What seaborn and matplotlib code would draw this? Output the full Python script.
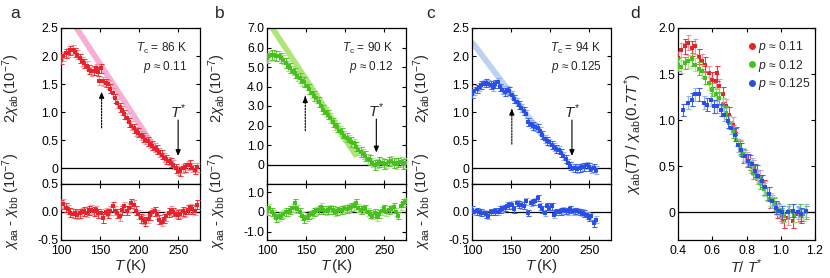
import numpy as np
import pandas as pd
import matplotlib
matplotlib.use("Agg")
import matplotlib.pyplot as plt
import seaborn as sns
from matplotlib.lines import Line2D

# ---------------- data ----------------
a_T = [100,103,106,109,112,115,118,121,124,127,130,133,136,139,142,145,148,149,151,154,157,160,163,166,169,172,175,178,181,184,187,190,193,196,199,202,205,208,211,214,217,220,223,226,229,232,235,238,241,244,247,250,253,256,259,262,265,268,271,274]
a_chi = [1.93,2.00,2.05,2.06,2.10,2.11,2.07,2.02,1.96,1.91,1.87,1.83,1.76,1.73,1.74,1.78,1.72,1.56,1.78,1.55,1.52,1.50,1.42,1.35,1.25,1.16,1.09,1.03,0.96,0.90,0.82,0.76,0.71,0.66,0.63,0.59,0.55,0.51,0.48,0.44,0.40,0.37,0.33,0.29,0.24,0.19,0.16,0.13,0.10,0.06,0.00,-0.04,-0.05,0.00,0.02,0.05,0.06,0.01,-0.03,0.02]
a_Tlow = [100,103,106,109,112,115,118,121,124,127,130,133,136,139,142,145,148,151,154,157,160,163,166,169,172,175,178,181,184,187,190,193,196,199,202,205,208,211,214,217,220,223,226,229,232,235,238,241,244,247,250,253,256,259,262,265,268,271,274]
a_diff = [0.14,0.15,0.08,0.05,-0.01,-0.03,-0.02,-0.05,-0.02,0.00,0.01,-0.01,0.03,0.04,0.01,0.03,-0.02,-0.02,-0.11,0.00,-0.03,0.02,0.10,0.02,-0.02,-0.08,0.03,0.10,0.02,0.08,0.16,0.13,0.02,-0.04,-0.11,-0.14,-0.17,-0.12,-0.06,0.00,0.01,-0.04,-0.14,-0.17,-0.12,-0.08,-0.01,0.02,0.00,-0.03,-0.05,-0.03,0.01,-0.01,0.04,0.07,0.05,0.02,0.13]

b_T = [100,103,106,109,112,115,118,121,124,127,130,133,136,139,142,145,148,151,154,157,160,163,166,169,172,175,178,181,184,187,190,193,196,199,202,205,208,211,214,217,220,223,226,229,232,235,238,241,244,247,250,253,256,259,262,265,268,271,274,277]
b_chi = [5.48,5.55,5.60,5.63,5.58,5.55,5.45,5.38,5.22,5.06,4.95,4.82,4.70,4.52,4.42,4.30,4.22,4.05,3.86,3.65,3.50,3.40,3.22,2.98,2.82,2.68,2.56,2.40,2.16,2.04,1.90,1.72,1.62,1.46,1.38,1.24,1.15,1.08,0.92,0.75,0.65,0.52,0.42,0.30,0.24,0.10,-0.03,0.05,0.12,0.10,0.02,0.05,0.15,0.20,0.08,0.03,0.10,0.14,0.02,0.06]
b_diff = [0.05,0.22,0.02,-0.10,-0.30,-0.25,-0.18,-0.10,0.00,0.02,0.09,0.20,0.48,0.15,0.00,-0.20,-0.35,-0.28,-0.15,-0.09,0.00,0.05,0.12,0.26,0.10,0.05,0.12,0.18,0.10,0.00,0.05,0.09,0.12,0.18,0.15,0.22,0.26,0.30,0.44,0.20,0.09,0.15,0.18,0.00,-0.09,-0.18,-0.05,-0.26,-0.10,0.05,0.18,0.02,0.09,0.15,0.26,0.00,-0.18,0.30,0.44,0.53]

c_T = [100,103,106,109,112,115,118,121,124,127,130,133,136,139,142,145,148,151,154,157,160,163,166,169,172,175,178,181,184,187,190,193,196,199,202,205,208,211,214,217,220,223,226,229,232,235,238,241,244,247,250,253,256,259]
c_chi = [1.33,1.38,1.42,1.45,1.48,1.51,1.52,1.51,1.48,1.45,1.50,1.54,1.44,1.39,1.36,1.40,1.38,1.30,1.23,1.18,1.13,1.08,1.02,0.96,0.83,0.79,0.76,0.74,0.72,0.66,0.59,0.52,0.48,0.46,0.42,0.38,0.35,0.33,0.28,0.22,0.16,0.09,0.04,0.01,0.00,-0.01,0.01,0.02,0.03,0.05,0.02,-0.01,0.01,-0.03]
c_diff = [0.04,0.00,0.01,0.00,-0.01,-0.02,-0.04,-0.07,0.00,0.00,0.01,0.00,0.04,0.06,0.07,0.11,0.12,0.13,0.05,0.16,0.13,0.12,0.11,0.19,-0.02,0.16,0.18,0.19,0.25,0.10,0.05,-0.02,0.10,0.08,0.10,-0.05,0.00,0.00,0.01,0.03,0.02,0.01,0.05,0.01,0.02,0.01,0.00,-0.01,-0.03,-0.06,-0.10,-0.08,-0.20,-0.14]

# guide lines (endpoints)
a_line_T = [119, 223]
a_line_y = [2.52, 0.30]
b_line_T = [106, 215]
b_line_y = [7.05, 0.40]
c_line_T = [100, 195]
c_line_y = [2.25, 0.50]

# panel d: normalised susceptibility vs T/T*
d_x_011 = [0.40,0.42,0.44,0.46,0.48,0.50,0.52,0.54,0.56,0.58,0.60,0.62,0.63,0.64,0.66,0.68,0.70,0.72,0.74,0.76,0.78,0.80,0.82,0.84,0.86,0.88,0.90,0.92,0.94,0.96,0.98,1.00,1.02,1.04,1.07,1.10,1.12]
d_y_011 = [1.67,1.76,1.80,1.84,1.78,1.80,1.69,1.64,1.60,1.51,1.44,1.42,1.51,1.37,1.28,1.15,1.06,0.95,0.85,0.70,0.61,0.58,0.54,0.49,0.43,0.38,0.27,0.20,0.13,0.09,0.02,-0.04,-0.09,-0.06,-0.09,-0.02,-0.04]
d_x_012 = [0.40,0.42,0.44,0.46,0.48,0.50,0.52,0.54,0.56,0.58,0.60,0.62,0.64,0.66,0.68,0.70,0.72,0.74,0.76,0.78,0.80,0.82,0.84,0.86,0.88,0.90,0.92,0.94,0.96,0.98,1.00,1.02,1.05,1.08,1.11,1.13,1.15]
d_y_012 = [1.60,1.58,1.62,1.64,1.66,1.60,1.56,1.53,1.46,1.40,1.33,1.28,1.24,1.17,1.08,0.97,0.88,0.79,0.70,0.63,0.56,0.50,0.43,0.38,0.32,0.25,0.20,0.14,0.09,0.04,-0.02,-0.04,0.02,-0.04,0.02,-0.02,0.00]
d_x_0125 = [0.43,0.46,0.48,0.50,0.52,0.55,0.57,0.59,0.61,0.63,0.65,0.67,0.69,0.71,0.73,0.75,0.77,0.79,0.81,0.83,0.85,0.87,0.89,0.91,0.93,0.95,0.97,0.99,1.01,1.04,1.07,1.10,1.12,1.15]
d_y_0125 = [1.11,1.19,1.22,1.28,1.28,1.19,1.17,1.22,1.15,1.15,1.11,1.06,0.99,0.92,0.84,0.73,0.68,0.61,0.56,0.52,0.45,0.39,0.34,0.27,0.20,0.12,0.05,0.02,0.00,0.00,0.02,0.00,-0.02,0.02]

labels_p = ["0.11", "0.12", "0.125"]
Tc_vals = ["86", "90", "94"]
Tstar = [250, 240, 228]

# ---------------- style ----------------
sns.set_style("ticks")
plt.rcParams['font.family'] = ['Liberation Sans', 'DejaVu Sans']
plt.rcParams['mathtext.fontset'] = 'custom'
plt.rcParams['mathtext.rm'] = 'Liberation Sans'
plt.rcParams['mathtext.it'] = 'Liberation Sans:italic'
plt.rcParams['mathtext.bf'] = 'Liberation Sans:bold'
plt.rcParams['axes.linewidth'] = 0.9
plt.rcParams['axes.unicode_minus'] = False

RED, RED_L, RED_LINE = '#e8222a', '#f08c96', '#f7a6d0'
GRN, GRN_L, GRN_LINE = '#46c01c', '#9fdc7c', '#a8e468'
BLU, BLU_L, BLU_LINE = '#2a4fe6', '#8ea9f2', '#b4cef2'

W, H = 830, 278
fig = plt.figure(figsize=(W/100, H/100), dpi=100)

def ax_px(x0, y0, x1, y1):
    return fig.add_axes([x0/W, 1 - y1/H, (x1-x0)/W, (y1-y0)/H])

def style_ax(ax, labelbottom):
    ax.tick_params(direction='in', top=True, right=True, length=3, width=0.8,
                   labelsize=8.8, labelbottom=labelbottom, colors='black')
    ax.tick_params(axis='y', pad=2)
    ax.tick_params(axis='x', pad=3.5)
    for s in ax.spines.values():
        s.set_linewidth(0.9)
        s.set_color('black')

def draw_series(ax, x, y, err, col, col_l, size=5, zorder=3):
    ax.errorbar(x, y, yerr=err, fmt='none', ecolor=col_l, elinewidth=0.9,
                capsize=1.8, capthick=0.8, alpha=0.9, zorder=zorder)
    ax.errorbar(x[::2], y[::2], yerr=err, fmt='none', ecolor=col, elinewidth=0.7,
                capsize=1.8, capthick=0.7, alpha=0.8, zorder=zorder)
    sns.scatterplot(x=x, y=y, ax=ax, color=col, marker='s', s=size, linewidth=0,
                    zorder=zorder+1, legend=False)

panels = [
    dict(x0=61, letter='a', T=a_T, chi=a_chi, Tl=a_Tlow, diff=a_diff, col=RED, col_l=RED_L, lc=RED_LINE,
         lT=a_line_T, ly=a_line_y, ylim=(-0.28, 2.5), yt=[0, 0.5, 1.0, 1.5, 2.0, 2.5],
         ytl=['0', '0.5', '1.0', '1.5', '2.0', '2.5'], ylim2=(-0.5, 0.5), yt2=[-0.5, 0, 0.5],
         ytl2=['-0.5', '0.0', '0.5'], err=0.08, err2=0.08, ts_y=(0.86, 0.22), tsl=1.0,
         dash=(152, 0.72, 1.36), txr=0.91, lx=15),
    dict(x0=267, letter='b', T=b_T, chi=b_chi, Tl=b_T, diff=b_diff, col=GRN, col_l=GRN_L, lc=GRN_LINE,
         lT=b_line_T, ly=b_line_y, ylim=(-1.0, 7.0), yt=[0, 1, 2, 3, 4, 5, 6, 7],
         ytl=['0', '1.0', '2.0', '3.0', '4.0', '5.0', '6.0', '7.0'], ylim2=(-1.42, 1.42), yt2=[-1, 0, 1],
         ytl2=['-1.0', '0', '1.0'], err=0.25, err2=0.2, ts_y=(2.33, 0.62), tsl=2.74,
         dash=(149, 1.73, 3.5), txr=0.91, lx=220),
    dict(x0=472, letter='c', T=c_T, chi=c_chi, Tl=c_T, diff=c_diff, col=BLU, col_l=BLU_L, lc=BLU_LINE,
         lT=c_line_T, ly=c_line_y, ylim=(-0.28, 2.5), yt=[0, 0.5, 1.0, 1.5, 2.0, 2.5],
         ytl=['0', '0.5', '1.0', '1.5', '2.0', '2.5'], ylim2=(-0.5, 0.5), yt2=[-0.5, 0, 0.5],
         ytl2=['-0.5', '0.0', '0.5'], err=0.07, err2=0.06, ts_y=(0.86, 0.22), tsl=1.0,
         dash=(151, 0.43, 1.06), txr=0.93, lx=431),
]

for i, P in enumerate(panels):
    x0 = P['x0']
    x1 = x0 + 139
    ax1 = ax_px(x0, 28, x1, 184)
    ax2 = ax_px(x0, 184, x1, 240)
    for ax in (ax1, ax2):
        ax.set_xlim(100, 278)
        ax.set_xticks([100, 150, 200, 250])
        ax.axhline(0, color='black', lw=0.9, zorder=2)
    style_ax(ax1, False)
    style_ax(ax2, True)

    # guide line
    sns.lineplot(x=P['lT'], y=P['ly'], ax=ax1, color=P['lc'], lw=4.2, alpha=0.9, zorder=1,
                 solid_capstyle='butt')
    draw_series(ax1, P['T'], P['chi'], P['err'], P['col'], P['col_l'])
    draw_series(ax2, P['Tl'], P['diff'], P['err2'], P['col'], P['col_l'])

    ax1.set_ylim(*P['ylim'])
    ax1.set_yticks(P['yt'])
    ax1.set_yticklabels(P['ytl'])
    ax2.set_ylim(*P['ylim2'])
    ax2.set_yticks(P['yt2'])
    ax2.set_yticklabels(P['ytl2'])
    ax2.set_xticklabels(['100', '150', '200', '250'])

    ax1.set_ylabel(r'$2\chi_{\rm ab}\,(10^{-7})$', fontsize=10.5, labelpad=0)
    ax1.yaxis.set_label_coords(-0.28, 0.61)
    ax2.set_ylabel(r'$\chi_{\rm aa}$ - $\chi_{\rm bb}$ $(10^{-7})$', fontsize=10.5, labelpad=0)
    ax2.yaxis.set_label_coords(-0.28, 0.68)
    ax2.set_xlabel(r'$T\,$(K)', fontsize=11)
    ax2.xaxis.set_label_coords(0.5, -0.31)

    # text
    ax1.text(P['txr'], 0.87, r'$T_{\rm c}$ = ' + Tc_vals[i] + ' K', transform=ax1.transAxes,
             ha='right', va='center', fontsize=8.5)
    ax1.text(P['txr'], 0.75, r'$p$ ≈ ' + labels_p[i], transform=ax1.transAxes,
             ha='right', va='center', fontsize=8.5)
    ts = Tstar[i]
    ax1.text(ts, P['tsl'], r'$T^{*}$', ha='center', va='center', fontsize=11)
    ax1.annotate('', xy=(ts, P['ts_y'][1]), xytext=(ts, P['ts_y'][0]),
                 arrowprops=dict(arrowstyle='-|>,head_length=0.35,head_width=0.15', color='black', lw=0.8,
                                 shrinkA=0, shrinkB=0))
    dT, dy0, dy1 = P['dash']
    ax1.annotate('', xy=(dT, dy1), xytext=(dT, dy0),
                 arrowprops=dict(arrowstyle='-', color='black', lw=0.8, linestyle=(0, (1.5, 1.2)),
                                 shrinkA=0, shrinkB=0))
    ax1.annotate('', xy=(dT, dy1), xytext=(dT, dy1 - (P['ylim'][1]-P['ylim'][0])*0.03),
                 arrowprops=dict(arrowstyle='-|>,head_length=0.35,head_width=0.15', color='black', lw=0.8,
                                 shrinkA=0, shrinkB=0))
    fig.text(P['lx']/W, 1 - 13/H, P['letter'], fontsize=12.5, ha='center', va='center')

# ---------------- panel d ----------------
axd = ax_px(678, 28, 815, 240)
style_ax(axd, True)
axd.axhline(0, color='black', lw=0.9, zorder=2)
draw_series(axd, d_x_011, d_y_011, 0.08, RED, RED_L, zorder=3)
draw_series(axd, d_x_012, d_y_012, 0.07, GRN, GRN_L, zorder=5)
draw_series(axd, d_x_0125, d_y_0125, 0.07, BLU, BLU_L, zorder=7)
axd.set_xlim(0.4, 1.2)
axd.set_ylim(-0.3, 2.0)
axd.set_xticks([0.4, 0.6, 0.8, 1.0, 1.2])
axd.set_xticklabels(['0.4', '0.6', '0.8', '1.0', '1.2'])
axd.set_yticks([0, 0.5, 1.0, 1.5, 2.0])
axd.set_yticklabels(['0', '0.5', '1.0', '1.5', '2.0'])
axd.set_ylabel(r'$\chi_{\rm ab}(T)$ / $\chi_{\rm ab}(0.7T^{*})$', fontsize=11, labelpad=0)
axd.yaxis.set_label_coords(-0.25, 0.5)
axd.set_xlabel(r'$T$/ $T^{*}$', fontsize=10.5)
axd.xaxis.set_label_coords(0.5, -0.08)
handles = [Line2D([], [], marker='o', ls='none', color=c, markersize=4) for c in (RED, GRN, BLU)]
axd.legend(handles, [r'$p$ ≈ ' + s for s in labels_p], loc='upper left', bbox_to_anchor=(0.47, 0.97),
           frameon=False, fontsize=8.8, handletextpad=0.15, labelspacing=0.2, borderaxespad=0,
           handlelength=0.7)
fig.text(635/W, 1 - 13/H, 'd', fontsize=12.5, ha='center', va='center')

fig.savefig('out.png', dpi=100)
